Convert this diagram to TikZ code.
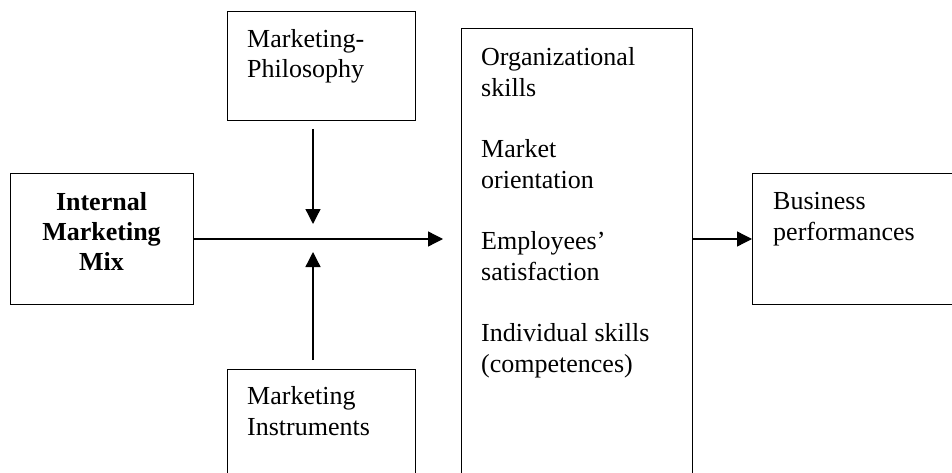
\documentclass[tikz,border=0pt]{standalone}
\usepackage{fontspec}
\setmainfont{Liberation Serif}
\usetikzlibrary{arrows.meta}

\begin{document}
\begin{tikzpicture}[x=1pt,y=-1pt,
   font=\fontsize{26}{30.5}\selectfont,
   box/.style={draw, line width=1pt, inner sep=0pt, outer sep=0pt},
   lbl/.style={anchor=base west, align=left, inner sep=0pt},
   arr/.style={line width=1.3pt, -{Triangle[length=15pt,width=15pt]}}]
   \useasboundingbox (0,0) rectangle (952,473);
   \clip (0,0) rectangle (952,473);
   % boxes
   \node[box, minimum width=183pt, minimum height=130pt] (mix) at (101.5,239) {};
   \node[box, minimum width=188pt, minimum height=109pt] (phil) at (321,66.5) {};
   \node[box, minimum width=188pt, minimum height=130pt] (instr) at (321,434) {};
   \node[box, minimum width=231pt, minimum height=480pt] (big) at (576.5,269) {};
   \node[box, minimum width=220pt, minimum height=130pt] (biz) at (862,239) {};
   % texts (anchored at the baseline of their last line)
   \node[anchor=base, align=center, inner sep=0pt, font=\fontsize{26}{30}\selectfont\bfseries]
      (mixtxt) at ([yshift=-96pt]mix.north) {Internal\\Marketing\\Mix};
   \node[lbl] (philtxt) at ([xshift=20pt,yshift=-66pt]phil.north west) {Marketing-\\Philosophy};
   \node[lbl] (instrtxt) at ([xshift=20pt,yshift=-66pt]instr.north west) {Marketing\\Instruments};
   \node[lbl] (bigtxt) at ([xshift=20pt,yshift=-343pt]big.north west)
      {Organizational\\skills\\[31pt]Market\\orientation\\[31pt]Employees’\\satisfaction\\[31pt]Individual skills\\(competences)};
   \node[lbl] (biztxt) at ([xshift=21pt,yshift=-66pt]biz.north west) {Business\\performances};
   % connectors
   \coordinate (jtop) at (313,224);
   \coordinate (jbot) at (313,252);
   \draw[arr] (mix.east) -- ([xshift=-18pt]big.west |- mix.east);
   \draw[arr] ([yshift=-8pt]phil.south -| jtop) -- (jtop);
   \draw[arr] ([yshift=9pt]instr.north -| jbot) -- (jbot);
   \draw[arr] (big.east |- biz.west) -- (biz.west);
\end{tikzpicture}
\end{document}
